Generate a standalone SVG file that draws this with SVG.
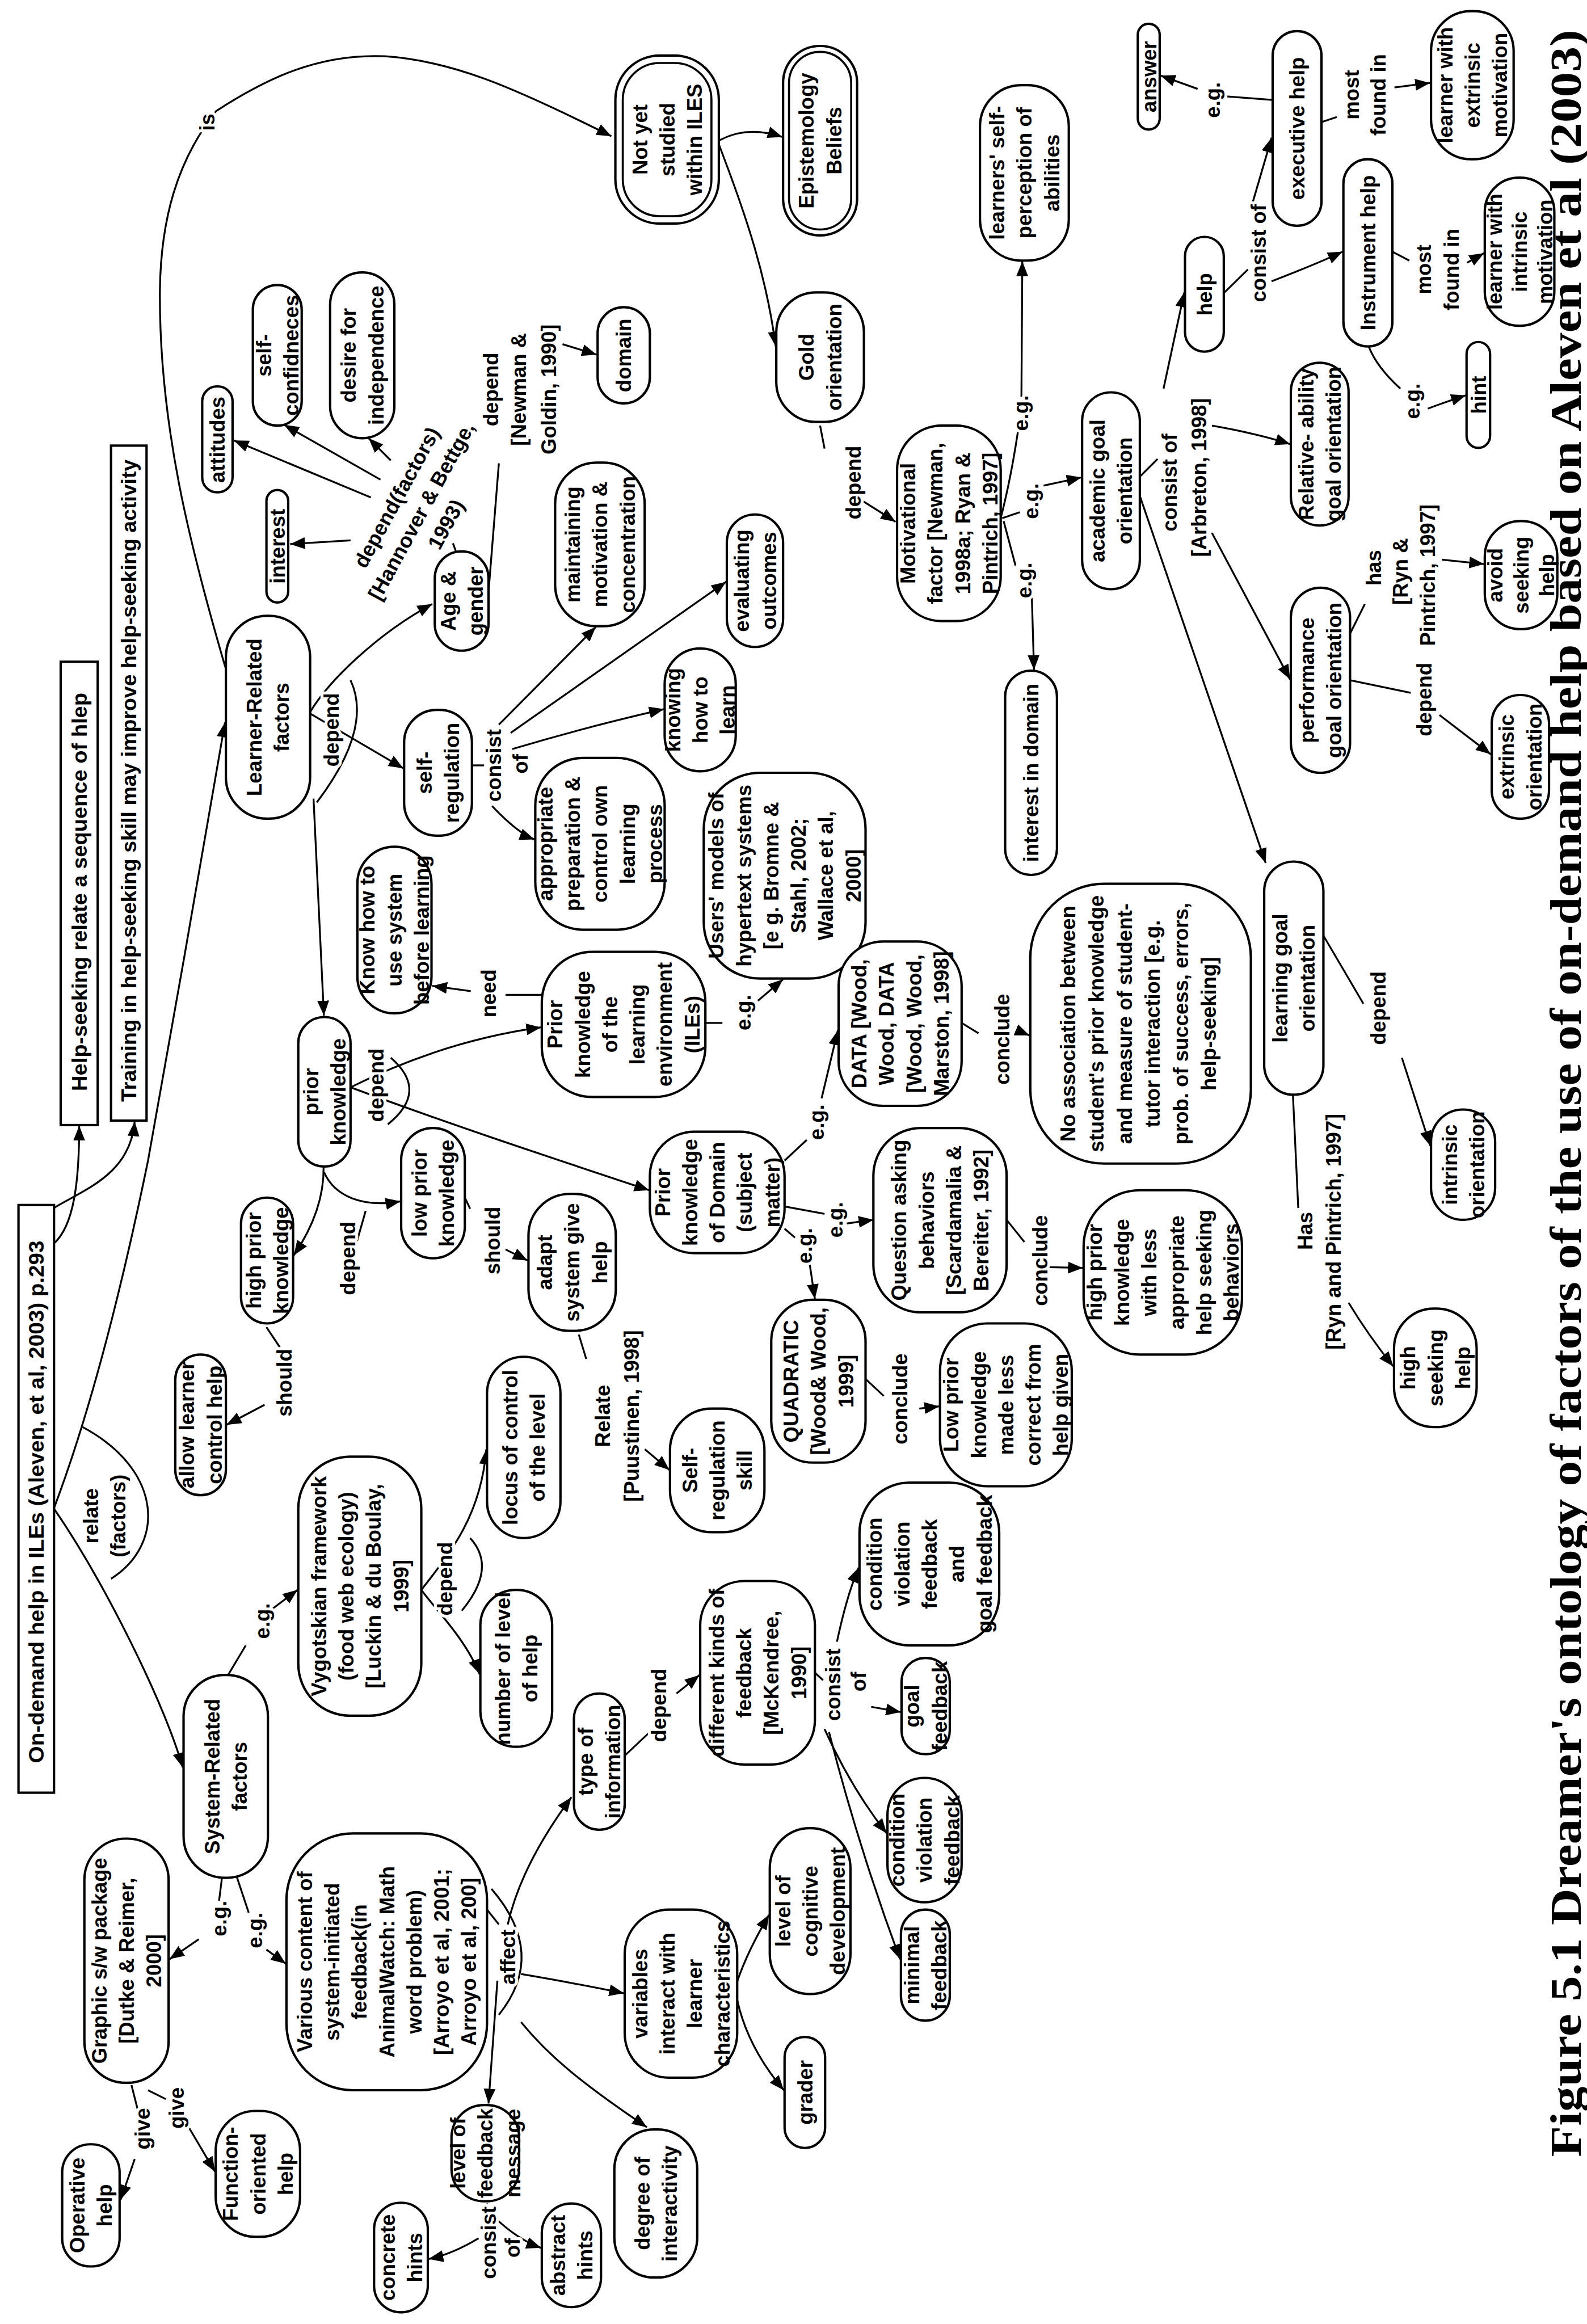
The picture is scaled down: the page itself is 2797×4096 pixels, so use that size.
<svg xmlns="http://www.w3.org/2000/svg" width="2797" height="4096" viewBox="0 0 2797 4096">
<defs>
<style>
text{font-family:"Liberation Sans",Arial,sans-serif;font-weight:bold;font-size:14px;text-anchor:middle;fill:#000}
.lb{stroke:#fff;stroke-width:4px;paint-order:stroke fill;stroke-linejoin:round}
.cap{font-family:"Liberation Serif","Times New Roman",serif;font-size:30px;text-anchor:start}
.n{fill:#fff;stroke:#000;stroke-width:1.6}
.i{fill:none;stroke:#000;stroke-width:1.4}
.c{fill:none;stroke:#000;stroke-width:1.25}
.a{marker-end:url(#ah)}
</style>
<marker id="ah" viewBox="0 0 10 8" refX="10" refY="4" markerWidth="10" markerHeight="8" markerUnits="userSpaceOnUse" orient="auto"><path d="M0,0 L10,4 L0,8 z" fill="#000"/></marker>
</defs>
<rect width="2797" height="4096" fill="#fff"/>
<g transform="matrix(0,-2.609,2.609,0,0,4091)">
<g id="connectors">
<path class="c a" d="M728,36.4 C740,50 770,53.5 807.5,53.5"/>
<path class="c a" d="M752,36.4 C765,58 775,88 810.5,91"/>
<path class="c a" d="M549,36.4 Q638,70 784,100 C868,115 1008,140 1080,152"/>
<path class="c a" d="M549,36.4 C500,70 420,110 374,123.5"/>
<path class="c" d="M604,55.8 C575,110 525,112 501.5,75"/>
<path class="c a" d="M1116,152.6 C1200,128 1280,108 1368,108 C1420,108 1460,120 1493,146 C1515,180 1532,215 1530,260 C1527,305 1510,345 1476,413"/>
<path class="c a" d="M1087,209.5 C1108,222 1140,255 1160,292"/>
<path class="c a" d="M1086,209.5 L1049,272.5"/>
<path class="c a" d="M1028.5,211.8 L882,218.8"/>
<path class="c" d="M1108.5,236.8 Q1076,252 1026,214"/>
<path class="c" d="M1195.5,308 L1201,306"/>
<path class="c" d="M1168,330 L1255,337"/>
<path class="c a" d="M1335.5,380 L1328.5,403"/>
<path class="c a" d="M1232,250.5 L1270.5,158"/>
<path class="c a" d="M1244,257 L1281,192"/>
<path class="c a" d="M1257,264 L1272,249"/>
<path class="c a" d="M1203,236.8 L1200.5,196"/>
<path class="c a" d="M1473,485.6 C1481,500 1480,515 1475.5,528.5"/>
<path class="c a" d="M1470.5,485.6 C1420,505 1380,518 1334,524"/>
<path class="c" d="M1280.5,554 L1265,557"/>
<path class="c a" d="M1230.5,581.3 Q1222,595 1215.5,605"/>
<path class="c" d="M1218,676 Q1245,683 1279,688"/>
<path class="c a" d="M1300,690 L1391.5,690.6"/>
<path class="c" d="M1218,677 L1222,689"/>
<path class="c a" d="M1240,705 L1245.5,730.5"/>
<path class="c" d="M1216,678 L1186,686"/>
<path class="c a" d="M1166,697 L1115.5,698.5"/>
<path class="c" d="M1246,770 L1258,782"/>
<path class="c a" d="M1233,770 L985,855"/>
<path class="c a" d="M1305.5,786 L1370.5,800"/>
<path class="c a" d="M1280.5,818.7 Q1275,850 1268,871.5"/>
<path class="c a" d="M1208,818.7 L1109,871.5"/>
<path class="c" d="M1370,826.7 L1386,843"/>
<path class="c a" d="M1430.5,846 L1475,859"/>
<path class="c a" d="M1378,859 Q1390,890 1398,907"/>
<path class="c" d="M1500.5,859.7 L1503,827"/>
<path class="c a" d="M1508,809 L1517,784"/>
<path class="c" d="M1485.5,892.7 L1489,903"/>
<path class="c a" d="M1509,942 L1512,966"/>
<path class="c" d="M1398,940.6 L1392,952"/>
<path class="c a" d="M1390.5,991 L1397,1002.5"/>
<path class="c" d="M1334,924.6 Q1320,930 1305.5,946"/>
<path class="c a" d="M1292,964.5 Q1297,978 1301,990.2"/>
<path class="c" d="M1140,912 L1160,922"/>
<path class="c" d="M1108.5,912 L1100,953"/>
<path class="c a" d="M1190,974 L1187,1002.5"/>
<path class="c a" d="M1085,972.4 L1058.5,1007"/>
<path class="c" d="M936,894 L890,921"/>
<path class="c a" d="M853.5,947 L794,966.2"/>
<path class="c" d="M828.5,873.4 L752,877"/>
<path class="c a" d="M688,911 Q665,925 645,941.2"/>
<path class="c a" d="M833.5,236.8 Q865,300 874,365.5"/>
<path class="c a" d="M833.5,236.8 C810,300 790,360 764,438.5"/>
<path class="c" d="M853.5,264 Q831,290 808.5,262"/>
<path class="c a" d="M780,218.6 C760,219 740,212 720,198.5"/>
<path class="c a" d="M776,219 C760,226 752,245 756.5,270.5"/>
<path class="c" d="M729,241 L750,247"/>
<path class="c" d="M671.5,180 L658,189"/>
<path class="c a" d="M619,178.7 L605.5,153"/>
<path class="c" d="M759,314 L751.5,317.6"/>
<path class="c a" d="M724,341.5 L716.5,356.5"/>
<path class="c" d="M666.5,391 L650,396"/>
<path class="c a" d="M589,435.6 L575,452.2"/>
<path class="c" d="M896,366 L896,341.5"/>
<path class="c a" d="M898.5,318 L902,292"/>
<path class="c" d="M1051,318.8 L1051,327"/>
<path class="c a" d="M1078.5,337 L1144.5,402.5"/>
<path class="c a" d="M1073,345 L1175,490.5"/>
<path class="c a" d="M1062,346 Q1078,400 1089,448.5"/>
<path class="c a" d="M1023.5,332.4 Q1005,350 1001,361"/>
<path class="c" d="M877,476.5 L877,488"/>
<path class="c a" d="M892,512 L906.5,529"/>
<path class="c" d="M784,530 L798,545"/>
<path class="c a" d="M826,555 L872,566"/>
<path class="c" d="M753,530 L748,557"/>
<path class="c a" d="M741.5,572 L744,590"/>
<path class="c" d="M738,530 L732,537"/>
<path class="c a" d="M714,547 L690.5,550.5"/>
<path class="c" d="M877,649.6 L870,661"/>
<path class="c a" d="M872,687 L868.5,695.5"/>
<path class="c" d="M744,680 L729,692"/>
<path class="c a" d="M712,709 L711.5,731.5"/>
<path class="c" d="M636.5,584.7 L625,597"/>
<path class="c a" d="M616.5,621 L618,634.5"/>
<path class="c" d="M434,152.6 L456.5,166"/>
<path class="c a" d="M481.5,184.4 L494,201"/>
<path class="c a" d="M494,284.6 C520,305 545,325 589,328.5"/>
<path class="c a" d="M494,284.6 C480,295 460,315 437,324"/>
<path class="c" d="M529,317.6 Q509,336 480,312"/>
<path class="c" d="M300,150 L284,148"/>
<path class="c" d="M300,160 L276,168"/>
<path class="c a" d="M258,134.3 L244.5,114.5"/>
<path class="c a" d="M251,180 L241.5,193"/>
<path class="c" d="M159.5,88.8 L143,93"/>
<path class="c" d="M156,100 L150,112"/>
<path class="c a" d="M109.5,91 L82,81.5"/>
<path class="c a" d="M131,127.5 L101,145.2"/>
<path class="c" d="M278,329 L268,337"/>
<path class="c a" d="M230,336 L147,330"/>
<path class="c a" d="M268,343 Q308,352 354,386"/>
<path class="c a" d="M234.5,352 Q228,390 221.5,421.5"/>
<path class="c a" d="M202,352 C180,370 162,391 131,437"/>
<path class="c" d="M292,332 Q248,370 207,337"/>
<path class="c" d="M79.5,329 L70,329"/>
<path class="c a" d="M56,323.3 Q45,305 42,289.5"/>
<path class="c a" d="M69.5,334.7 Q55,350 49.5,365.5"/>
<path class="c a" d="M229.5,498 Q250,505 274.5,519.5"/>
<path class="c a" d="M217,498 Q185,505 156,529.5"/>
<path class="c" d="M382,422 L398,439"/>
<path class="c a" d="M424,457 L436.5,472.5"/>
<path class="c" d="M438,550.5 L433,556"/>
<path class="c a" d="M459,565.4 Q490,572 509,580"/>
<path class="c a" d="M415,588.5 L411.5,608.5"/>
<path class="c a" d="M400,557 Q360,575 329.5,599"/>
<path class="c a" d="M398,560 Q320,580 244.5,608"/>
</g>
<g id="nodes">
<g id="n-ondemand"><rect class="n" x="357" y="12.5" width="397" height="24"/><text x="553.5" y="29.5" textLength="353" lengthAdjust="spacingAndGlyphs">On-demand help in ILEs (Aleven, et al, 2003) p.293</text></g>
<g id="n-helpseek"><rect class="n" x="808" y="41" width="313" height="25"/><text x="965.5" y="58.5" textLength="269" lengthAdjust="spacingAndGlyphs">Help-seeking relate a sequence of hlep</text></g>
<g id="n-training"><rect class="n" x="811" y="75" width="456" height="24"/><text x="1040.7" y="92" textLength="434" lengthAdjust="spacingAndGlyphs">Training in help-seeking skill may improve help-seeking activity</text></g>
<g id="n-learner"><rect class="n" x="1015" y="152.6" width="137" height="56.9" rx="28"/><text><tspan x="1083.5" y="176.75">Learner-Related</tspan><tspan x="1083.5" y="195.25">factors</tspan></text></g>
<g id="n-attitudes"><rect class="n" x="1235.5" y="136.6" width="71.5" height="20.5" rx="10"/><text x="1271" y="151.85">attitudes</text></g>
<g id="n-selfconf"><rect class="n" x="1280.5" y="170.8" width="95" height="33" rx="16.5"/><text><tspan x="1328" y="183.05">self-</tspan><tspan x="1328" y="201.55">confidneces</tspan></text></g>
<g id="n-desire"><rect class="n" x="1272" y="223" width="112" height="43.4" rx="21.7"/><text><tspan x="1328" y="240.45">desire for</tspan><tspan x="1328" y="258.95">independence</tspan></text></g>
<g id="n-interest"><rect class="n" x="1161" y="180" width="76" height="14.7" rx="7.35"/><text x="1199" y="192.35">interest</text></g>
<g id="n-agegender"><rect class="n" x="1128.5" y="293.7" width="67" height="36.3" rx="18"/><text><tspan x="1162" y="307.6">Age &amp;</tspan><tspan x="1162" y="326.1">gender</tspan></text></g>
<g id="n-domain"><rect class="n" x="1295.5" y="403.7" width="65" height="35.3" rx="17.6"/><text x="1328" y="426.35">domain</text></g>
<g id="n-notyet"><rect class="n" x="1417" y="415.7" width="113.5" height="69.9" rx="30"/><rect class="i" x="1422" y="420.7" width="103.5" height="59.9" rx="25"/><text><tspan x="1473.75" y="437.15">Not yet</tspan><tspan x="1473.75" y="455.65">studied</tspan><tspan x="1473.75" y="474.15">within ILES</tspan></text></g>
<g id="n-epist"><rect class="n" x="1409" y="529" width="128" height="50" rx="25"/><rect class="i" x="1413" y="533" width="120" height="42" rx="21"/><text><tspan x="1473" y="549.75">Epistemology</tspan><tspan x="1473" y="568.25">Beliefs</tspan></text></g>
<g id="n-gold"><rect class="n" x="1283" y="524.4" width="87.5" height="59.2" rx="27"/><text><tspan x="1326.75" y="549.75">Gold</tspan><tspan x="1326.75" y="568.25">orientation</tspan></text></g>
<g id="n-motiv"><rect class="n" x="1148.5" y="606" width="132" height="70" rx="30"/><text><tspan x="1214.5" y="618.25">Motivational</tspan><tspan x="1214.5" y="636.75">factor [Newman,</tspan><tspan x="1214.5" y="655.25">1998a; Ryan &amp;</tspan><tspan x="1214.5" y="673.75">Pintrich, 1997]</tspan></text></g>
<g id="n-selfperc"><rect class="n" x="1392" y="662" width="118.5" height="60" rx="28"/><text><tspan x="1451.25" y="678.5">learners' self-</tspan><tspan x="1451.25" y="697">perception of</tspan><tspan x="1451.25" y="715.5">abilities</tspan></text></g>
<g id="n-academic"><rect class="n" x="1170" y="731" width="133" height="39" rx="19.5"/><text><tspan x="1236.5" y="746.25">academic goal</tspan><tspan x="1236.5" y="764.75">orientation</tspan></text></g>
<g id="n-help"><rect class="n" x="1330.5" y="800.5" width="77.5" height="26.2" rx="13"/><text x="1369.25" y="818.6">help</text></g>
<g id="n-executive"><rect class="n" x="1415.5" y="859.7" width="131.5" height="33" rx="16.5"/><text x="1481.25" y="881.2">executive help</text></g>
<g id="n-answer"><rect class="n" x="1480.5" y="768.6" width="71.5" height="14.8" rx="7.4"/><text x="1516.25" y="781">answer</text></g>
<g id="n-extrinsicmot"><rect class="n" x="1460.5" y="966.7" width="100" height="55.8" rx="27"/><text><tspan x="1510.5" y="981.1">learner with</tspan><tspan x="1510.5" y="999.6">extrinsic</tspan><tspan x="1510.5" y="1018.1">motivation</tspan></text></g>
<g id="n-instrument"><rect class="n" x="1334" y="907.5" width="126.5" height="33.1" rx="16.5"/><text x="1397.25" y="929.05">Instrument help</text></g>
<g id="n-intrinsicmot"><rect class="n" x="1348" y="1003" width="100" height="47" rx="23"/><text><tspan x="1398" y="1014.5">learner with</tspan><tspan x="1398" y="1031.5">intrinsic</tspan><tspan x="1398" y="1048.5">motivation</tspan></text></g>
<g id="n-hint"><rect class="n" x="1265.5" y="990.7" width="71.5" height="15.9" rx="8"/><text x="1301.25" y="1003.65">hint</text></g>
<g id="n-relative"><rect class="n" x="1213" y="872" width="110" height="39" rx="19.5"/><text><tspan x="1268" y="887.25">Relative- ability</tspan><tspan x="1268" y="905.75">goal orientation</tspan></text></g>
<g id="n-performance"><rect class="n" x="1046" y="872" width="125" height="40" rx="20"/><text><tspan x="1108.5" y="887.75">performance</tspan><tspan x="1108.5" y="906.25">goal orientation</tspan></text></g>
<g id="n-avoid"><rect class="n" x="1143" y="1003" width="73" height="49" rx="24"/><text><tspan x="1179.5" y="1015">avoid</tspan><tspan x="1179.5" y="1032.5">seeking</tspan><tspan x="1179.5" y="1050">help</tspan></text></g>
<g id="n-extrinsicor"><rect class="n" x="1015" y="1007.7" width="83.5" height="38.7" rx="19"/><text><tspan x="1056.75" y="1022.8">extrinsic</tspan><tspan x="1056.75" y="1041.3">orientation</tspan></text></g>
<g id="n-maintaining"><rect class="n" x="1145" y="375" width="110.5" height="60.5" rx="28"/><text><tspan x="1200.25" y="391.75">maintaining</tspan><tspan x="1200.25" y="410.25">motivation &amp;</tspan><tspan x="1200.25" y="428.75">concentration</tspan></text></g>
<g id="n-evaluating"><rect class="n" x="1131" y="491" width="89.5" height="38" rx="19"/><text><tspan x="1175.75" y="505.75">evaluating</tspan><tspan x="1175.75" y="524.25">outcomes</tspan></text></g>
<g id="n-selfreg"><rect class="n" x="1003.5" y="273" width="85" height="45.8" rx="22"/><text><tspan x="1046" y="291.65">self-</tspan><tspan x="1046" y="310.15">regulation</tspan></text></g>
<g id="n-knowing"><rect class="n" x="1047" y="449" width="83" height="48" rx="24"/><text><tspan x="1088.5" y="459.5">knowing</tspan><tspan x="1088.5" y="478">how to</tspan><tspan x="1088.5" y="496.5">learn</tspan></text></g>
<g id="n-appropriate"><rect class="n" x="940" y="361.6" width="116" height="87.4" rx="32"/><text><tspan x="998" y="373.3">appropriate</tspan><tspan x="998" y="391.8">preparation &amp;</tspan><tspan x="998" y="410.3">control own</tspan><tspan x="998" y="428.8">learning</tspan><tspan x="998" y="447.3">process</tspan></text></g>
<g id="n-knowhow"><rect class="n" x="883.5" y="241.4" width="112.5" height="50.1" rx="25"/><text><tspan x="939.75" y="252.95">Know how to</tspan><tspan x="939.75" y="271.45">use system</tspan><tspan x="939.75" y="289.95">before learning</tspan></text></g>
<g id="n-priorknow"><rect class="n" x="780" y="201.5" width="101" height="35.3" rx="17.6"/><text><tspan x="830.5" y="214.9">prior</tspan><tspan x="830.5" y="233.4">knowledge</tspan></text></g>
<g id="n-priorile"><rect class="n" x="827" y="366" width="98" height="110.5" rx="34"/><text><tspan x="876" y="380">Prior</tspan><tspan x="876" y="398.5">knowledge</tspan><tspan x="876" y="417">of the</tspan><tspan x="876" y="435.5">learning</tspan><tspan x="876" y="454">environment</tspan><tspan x="876" y="472.5">(ILEs)</tspan></text></g>
<g id="n-users"><rect class="n" x="907" y="475.4" width="139" height="109.3" rx="38"/><text><tspan x="976.5" y="488.8">Users' models of</tspan><tspan x="976.5" y="507.3">hypertext systems</tspan><tspan x="976.5" y="525.8">[e g. Bromne &amp;</tspan><tspan x="976.5" y="544.3">Stahl, 2002;</tspan><tspan x="976.5" y="562.8">Wallace et al,</tspan><tspan x="976.5" y="581.3">2000]</tspan></text></g>
<g id="n-data"><rect class="n" x="821" y="566.5" width="111" height="83.1" rx="30"/><text><tspan x="876.5" y="585.3">DATA [Wood,</tspan><tspan x="876.5" y="603.8">Wood, DATA</tspan><tspan x="876.5" y="622.3">[Wood, Wood,</tspan><tspan x="876.5" y="640.8">Marston, 1998]</tspan></text></g>
<g id="n-interestdomain"><rect class="n" x="977" y="679" width="138" height="35" rx="17.5"/><text x="1046" y="701.5">interest in domain</text></g>
<g id="n-noassoc"><rect class="n" x="782" y="696" width="189" height="149" rx="50"/><text><tspan x="876.5" y="726.5">No association between</tspan><tspan x="876.5" y="745.5">student's prior knowledge</tspan><tspan x="876.5" y="764.5">and measure of student-</tspan><tspan x="876.5" y="783.5">tutor interaction [e.g.</tspan><tspan x="876.5" y="802.5">prob. of success, errors,</tspan><tspan x="876.5" y="821.5">help-seeking]</tspan></text></g>
<g id="n-learninggoal"><rect class="n" x="828.5" y="854" width="157.5" height="40" rx="20"/><text><tspan x="907.25" y="869.75">learning goal</tspan><tspan x="907.25" y="888.25">orientation</tspan></text></g>
<g id="n-intrinsicor"><rect class="n" x="744" y="966.7" width="74.5" height="43.3" rx="21.6"/><text><tspan x="781.25" y="984.1">intrinsic</tspan><tspan x="781.25" y="1002.6">orientation</tspan></text></g>
<g id="n-highseek"><rect class="n" x="604" y="941.7" width="80" height="55.8" rx="27"/><text><tspan x="644" y="956.1">high</tspan><tspan x="644" y="974.6">seeking</tspan><tspan x="644" y="993.1">help</tspan></text></g>
<g id="n-highprior2"><rect class="n" x="653" y="732" width="111" height="107" rx="38"/><text><tspan x="708.5" y="744.25">high prior</tspan><tspan x="708.5" y="762.75">knowledge</tspan><tspan x="708.5" y="781.25">with less</tspan><tspan x="708.5" y="799.75">appropriate</tspan><tspan x="708.5" y="818.25">help seeking</tspan><tspan x="708.5" y="836.75">behaviors</tspan></text></g>
<g id="n-highprior"><rect class="n" x="674" y="162.8" width="85" height="35.2" rx="17.6"/><text><tspan x="716.5" y="176.15">high prior</tspan><tspan x="716.5" y="194.65">knowledge</tspan></text></g>
<g id="n-allow"><rect class="n" x="558" y="118.4" width="95" height="34.2" rx="17"/><text><tspan x="605.5" y="131.25">allow learner</tspan><tspan x="605.5" y="149.75">control help</tspan></text></g>
<g id="n-lowprior"><rect class="n" x="718" y="271" width="88" height="43" rx="21.5"/><text><tspan x="762" y="288.25">low prior</tspan><tspan x="762" y="306.75">knowledge</tspan></text></g>
<g id="n-adapt"><rect class="n" x="669" y="357" width="92.5" height="59" rx="28"/><text><tspan x="715.25" y="373">adapt</tspan><tspan x="715.25" y="391.5">system give</tspan><tspan x="715.25" y="410">help</tspan></text></g>
<g id="n-vygotsky"><rect class="n" x="409" y="201.5" width="175" height="83.1" rx="35"/><text><tspan x="496.5" y="220.3">Vygotskian framework</tspan><tspan x="496.5" y="238.8">(food web ecology)</tspan><tspan x="496.5" y="257.3">[Luckin &amp; du Boulay,</tspan><tspan x="496.5" y="275.8">1999]</tspan></text></g>
<g id="n-locus"><rect class="n" x="529" y="329" width="122.5" height="49.6" rx="24.8"/><text><tspan x="590.25" y="349.55">locus of control</tspan><tspan x="590.25" y="368.05">of the level</tspan></text></g>
<g id="n-number"><rect class="n" x="388" y="324.5" width="106" height="48.5" rx="24"/><text><tspan x="441" y="344.5">number of level</tspan><tspan x="441" y="363">of help</tspan></text></g>
<g id="n-selfregskill"><rect class="n" x="533" y="452.6" width="83.5" height="63.8" rx="28"/><text><tspan x="574.75" y="471">Self-</tspan><tspan x="574.75" y="489.5">regulation</tspan><tspan x="574.75" y="508">skill</tspan></text></g>
<g id="n-priordomain"><rect class="n" x="721.5" y="439" width="82" height="91" rx="30"/><text><tspan x="762.5" y="452.5">Prior</tspan><tspan x="762.5" y="471">knowledge</tspan><tspan x="762.5" y="489.5">of Domain</tspan><tspan x="762.5" y="508">(subject</tspan><tspan x="762.5" y="526.5">matter)</tspan></text></g>
<g id="n-question"><rect class="n" x="681.5" y="590" width="124.5" height="90" rx="32"/><text><tspan x="743.75" y="612.25">Question asking</tspan><tspan x="743.75" y="630.75">behaviors</tspan><tspan x="743.75" y="649.25">[Scardamalia &amp;</tspan><tspan x="743.75" y="667.75">Bereiter, 1992]</tspan></text></g>
<g id="n-quadratic"><rect class="n" x="580" y="521" width="110" height="63.7" rx="28"/><text><tspan x="635" y="539.35">QUADRATIC</tspan><tspan x="635" y="557.85">[Wood&amp; Wood,</tspan><tspan x="635" y="576.35">1999]</tspan></text></g>
<g id="n-lowprior2"><rect class="n" x="564" y="635" width="110" height="89" rx="32"/><text><tspan x="619" y="647.5">Low prior</tspan><tspan x="619" y="666">knowledge</tspan><tspan x="619" y="684.5">made less</tspan><tspan x="619" y="703">correct from</tspan><tspan x="619" y="721.5">help given</tspan></text></g>
<g id="n-diffkinds"><rect class="n" x="376" y="473" width="124" height="77.5" rx="30"/><text><tspan x="438" y="489">different kinds of</tspan><tspan x="438" y="507.5">feedback</tspan><tspan x="438" y="526">[McKendree,</tspan><tspan x="438" y="544.5">1990]</tspan></text></g>
<g id="n-condgoal"><rect class="n" x="456.5" y="580.6" width="110" height="94.4" rx="34"/><text><tspan x="511.5" y="595.8">condition</tspan><tspan x="511.5" y="614.3">violation</tspan><tspan x="511.5" y="632.8">feedback</tspan><tspan x="511.5" y="651.3">and</tspan><tspan x="511.5" y="669.8">goal feedback</tspan></text></g>
<g id="n-goalfb"><rect class="n" x="383" y="609" width="65" height="32.6" rx="16"/><text><tspan x="415.5" y="621.05">goal</tspan><tspan x="415.5" y="639.55">feedback</tspan></text></g>
<g id="n-system"><rect class="n" x="299.5" y="124" width="137" height="57" rx="28"/><text><tspan x="368" y="148.25">System-Related</tspan><tspan x="368" y="166.75">factors</tspan></text></g>
<g id="n-graphic"><rect class="n" x="161" y="57" width="165" height="56.9" rx="28"/><text><tspan x="243.5" y="71.95">Graphic s/w package</tspan><tspan x="243.5" y="90.45">[Dutke &amp; Reimer,</tspan><tspan x="243.5" y="108.95">2000]</tspan></text></g>
<g id="n-various"><rect class="n" x="156" y="193.5" width="173.5" height="135.5" rx="45"/><text><tspan x="242.75" y="210.75">Various content of</tspan><tspan x="242.75" y="229.25">system-initiated</tspan><tspan x="242.75" y="247.75">feedback(in</tspan><tspan x="242.75" y="266.25">AnimalWatch: Math</tspan><tspan x="242.75" y="284.75">word problem)</tspan><tspan x="242.75" y="303.25">[Arroyo et al, 2001;</tspan><tspan x="242.75" y="321.75">Arroyo et al, 200]</tspan></text></g>
<g id="n-operative"><rect class="n" x="37" y="42" width="82.5" height="38.8" rx="19"/><text><tspan x="78.25" y="57.15">Operative</tspan><tspan x="78.25" y="75.65">help</tspan></text></g>
<g id="n-function"><rect class="n" x="57" y="145.7" width="85" height="57" rx="27"/><text><tspan x="99.5" y="160.7">Function-</tspan><tspan x="99.5" y="179.2">oriented</tspan><tspan x="99.5" y="197.7">help</tspan></text></g>
<g id="n-levelfb"><rect class="n" x="81" y="305" width="65" height="45.7" rx="22"/><text><tspan x="113.5" y="314.35">level of</tspan><tspan x="113.5" y="332.85">feedback</tspan><tspan x="113.5" y="351.35">message</tspan></text></g>
<g id="n-concrete"><rect class="n" x="6" y="252.7" width="74" height="36.3" rx="18"/><text><tspan x="43" y="266.6">concrete</tspan><tspan x="43" y="285.1">hints</tspan></text></g>
<g id="n-abstract"><rect class="n" x="9.5" y="366" width="70" height="40" rx="20"/><text><tspan x="44.5" y="381.75">abstract</tspan><tspan x="44.5" y="400.25">hints</tspan></text></g>
<g id="n-degree"><rect class="n" x="29.5" y="415" width="100" height="56" rx="27"/><text><tspan x="79.5" y="438.75">degree of</tspan><tspan x="79.5" y="457.25">interactivity</tspan></text></g>
<g id="n-variables"><rect class="n" x="164.5" y="422" width="113.5" height="76" rx="30"/><text><tspan x="221.25" y="437.25">variables</tspan><tspan x="221.25" y="455.75">interact with</tspan><tspan x="221.25" y="474.25">learner</tspan><tspan x="221.25" y="492.75">characteristics</tspan></text></g>
<g id="n-typeinfo"><rect class="n" x="332" y="387.7" width="92" height="34.3" rx="17"/><text><tspan x="378" y="400.6">type of</tspan><tspan x="378" y="419.1">information</tspan></text></g>
<g id="n-cognitive"><rect class="n" x="221" y="520" width="112" height="54.5" rx="27"/><text><tspan x="277" y="533.75">level of</tspan><tspan x="277" y="552.25">cognitive</tspan><tspan x="277" y="570.75">development</tspan></text></g>
<g id="n-grader"><rect class="n" x="117" y="530" width="75" height="27.4" rx="13.7"/><text x="154.5" y="548.7">grader</text></g>
<g id="n-condviol"><rect class="n" x="283" y="599.5" width="84" height="50.1" rx="25"/><text><tspan x="325" y="611.05">condition</tspan><tspan x="325" y="629.55">violation</tspan><tspan x="325" y="648.05">feedback</tspan></text></g>
<g id="n-minimal"><rect class="n" x="203" y="608.6" width="75" height="33" rx="16.5"/><text><tspan x="240.5" y="620.85">minimal</tspan><tspan x="240.5" y="639.35">feedback</tspan></text></g>
</g>
<g id="labels">
<text class="lb" x="1485.5" y="145">is</text>
<text class="lb"><tspan x="544" y="66.5">relate</tspan><tspan x="544" y="84.7">(factors)</tspan></text>
<g transform="translate(1223,284.5) rotate(28.6)"><text class="lb"><tspan x="0" y="-14">depend(factors)</tspan><tspan x="0" y="5">[Hannover &amp; Bettge,</tspan><tspan x="0" y="24">1993)</tspan></text></g>
<text class="lb"><tspan x="1305" y="336.5">depend</tspan><tspan x="1305" y="355.5">[Newman &amp;</tspan><tspan x="1305" y="375.6">Goldin, 1990]</tspan></text>
<text class="lb" x="1075" y="229">depend</text>
<text class="lb"><tspan x="1051" y="338.5">consist</tspan><tspan x="1052" y="356.5">of</tspan></text>
<text class="lb" x="897" y="335">need</text>
<text class="lb" x="835" y="259">depend</text>
<text class="lb" x="718" y="240">depend</text>
<text class="lb" x="634" y="197">should</text>
<text class="lb" x="730" y="337.5">should</text>
<text class="lb" x="884" y="507">e.g.</text>
<text class="lb" x="810" y="556.5">e.g.</text>
<text class="lb" x="744" y="569">e.g.</text>
<text class="lb" x="726.5" y="548.5">e.g.</text>
<text class="lb" x="866" y="682">conclude</text>
<text class="lb" x="716.5" y="707.5">conclude</text>
<text class="lb" x="623" y="613">conclude</text>
<text class="lb"><tspan x="611.5" y="412">Relate</tspan><tspan x="611.5" y="431.5">[Puustinen, 1998]</tspan></text>
<text class="lb" x="473" y="182">e.g.</text>
<text class="lb" x="501.5" y="305.6">depend</text>
<text class="lb" x="272" y="153">e.g.</text>
<text class="lb" x="264" y="177">e.g.</text>
<text class="lb" x="130" y="101">give</text>
<text class="lb" x="144" y="124">give</text>
<text class="lb" x="246" y="348">affect</text>
<text class="lb"><tspan x="53" y="335">consist</tspan><tspan x="49.5" y="351">of</tspan></text>
<text class="lb" x="416" y="450">depend</text>
<text class="lb"><tspan x="430" y="567.5">consist</tspan><tspan x="432" y="585">of</tspan></text>
<text class="lb" x="1500.5" y="824">e.g.</text>
<text class="lb"><tspan x="1504" y="918">most</tspan><tspan x="1504" y="936">found in</tspan></text>
<text class="lb" x="1397" y="855">consist of</text>
<text class="lb"><tspan x="1386" y="966.6">most</tspan><tspan x="1386" y="985.3">found in</tspan></text>
<text class="lb" x="1297" y="959">e.g.</text>
<text class="lb"><tspan x="1242" y="795">consist of</tspan><tspan x="1245.5" y="815">[Arbreton, 1998]</tspan></text>
<text class="lb" x="1289" y="694.5">e.g.</text>
<text class="lb" x="1229.5" y="701.3">e.g.</text>
<text class="lb" x="1176" y="697">e.g.</text>
<text class="lb" x="1242" y="581.5">depend</text>
<text class="lb"><tspan x="1184.5" y="933">has</tspan><tspan x="1182" y="951">[Ryn &amp;</tspan><tspan x="1179.5" y="969.5">Pintrich, 1997]</tspan></text>
<text class="lb" x="1095.5" y="967">depend</text>
<text class="lb" x="887" y="936">depend</text>
<text class="lb"><tspan x="736.5" y="886.4">Has</tspan><tspan x="736" y="905.7">[Ryn and Pintrich, 1997]</tspan></text>
</g>
<text class="cap" x="111" y="1068" textLength="1437" lengthAdjust="spacingAndGlyphs">Figure 5.1 Dreamer's ontology of factors of the use of on-demand help based on Aleven et al (2003)</text>
</g>
</svg>
